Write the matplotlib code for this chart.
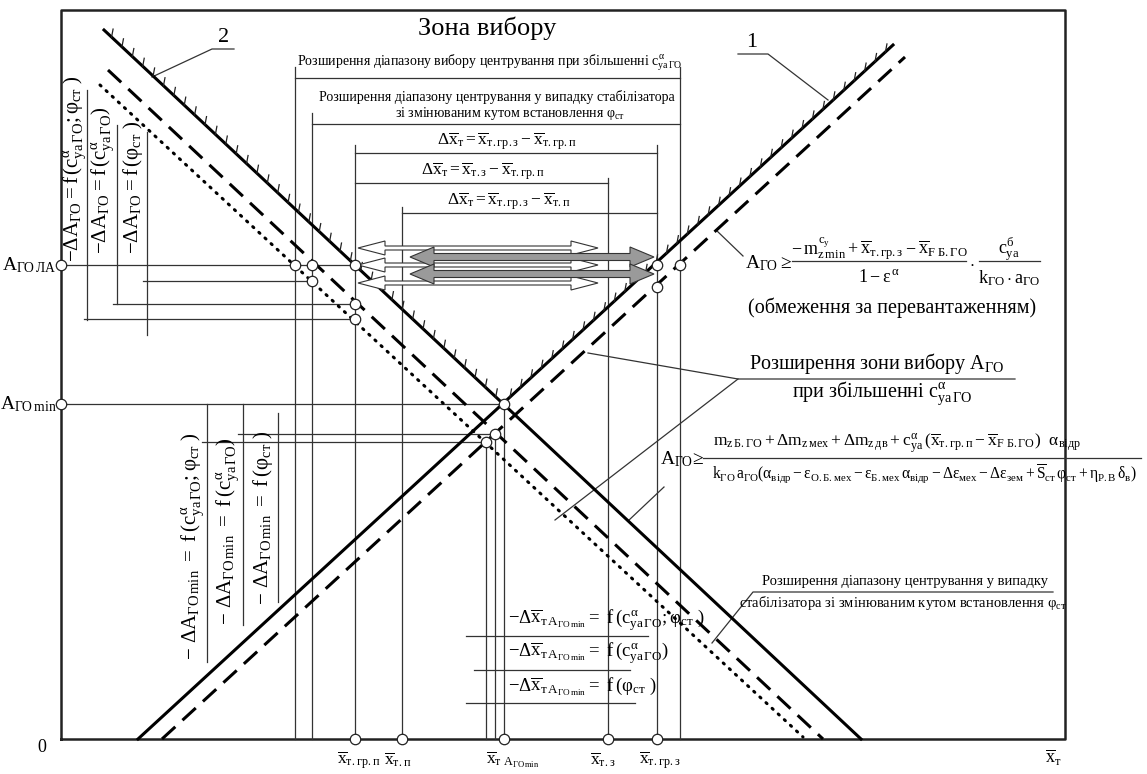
import numpy as np
import matplotlib
matplotlib.use("Agg")
import matplotlib.pyplot as plt
from matplotlib.patches import Polygon

plt.rcParams['font.family'] = ['Liberation Serif', 'DejaVu Serif']
plt.rcParams['mathtext.fontset'] = 'custom'
plt.rcParams['mathtext.rm'] = 'Liberation Serif'
plt.rcParams['mathtext.it'] = 'Liberation Serif'
plt.rcParams['mathtext.bf'] = 'Liberation Serif:bold'
plt.rcParams['lines.scale_dashes'] = False

# diagram frame (drawing units = pixels of the sheet)
x_left, x_right = 61, 1065
y_top, y_axis = 10, 739

# boundary lines  [x0, y0, x1, y1]
line1 = [138, 739, 893, 45]        # 1 - rising, solid
line1_dash = [162, 739, 905, 57]
line2 = [104, 30, 861, 739]        # 2 - falling, solid
line2_dash = [108, 70, 823, 739]
line2_dot = [100, 85, 803, 737]
cross = [504, 404]

# vertical guide lines (down to the axis)
vert_x = [295, 312, 355, 402, 486, 495, 504, 608, 657, 680]
vert_top = [67, 113, 145, 207, 442, 434, 404, 178, 145, 67]

# range brackets
br_y = [78, 124, 153, 183, 213]
br_x0 = [295, 312, 355, 355, 402]
br_x1 = [680, 680, 657, 608, 657]

# horizontal guide lines  (y, x0, x1)
h_y = [265, 281, 304, 319, 404, 434, 442]
h_x0 = [61, 143, 113, 84, 61, 238, 202]
h_x1 = [355, 312, 355, 355, 504, 495, 486]

# short vertical bars next to rotated labels (x, y0, y1)
bar_x = [87, 117, 147, 207, 243, 278]
bar_y0 = [90, 125, 132, 404, 404, 413]
bar_y1 = [320, 304, 335, 662, 625, 602]

# open circles
pt_x = [61, 61, 295, 312, 355, 312, 355, 355, 657, 680, 657, 504, 495, 486,
        355, 402, 504, 608, 657]
pt_y = [265, 404, 265, 265, 265, 281, 304, 319, 265, 265, 287, 404, 434, 442,
        739, 739, 739, 739, 739]

# axis labels
tick_x = [355, 402, 504, 608, 657]
tick_lbl = [r'$\overline{x}_{т.гр.п}$', r'$\overline{x}_{т.п}$',
            r'$\overline{x}_{т\ A_{ГО\,min}}$', r'$\overline{x}_{т.з}$',
            r'$\overline{x}_{т.гр.з}$']

br_lbl = [r'$\Delta\overline{x}_{т} = \overline{x}_{т.гр.з} - \overline{x}_{т.гр.п}$',
          r'$\Delta\overline{x}_{т} = \overline{x}_{т.з} - \overline{x}_{т.гр.п}$',
          r'$\Delta\overline{x}_{т} = \overline{x}_{т.гр.з} - \overline{x}_{т.п}$']
br_lbl_x = [507, 483, 509]
br_lbl_y = [141, 171, 201]

rot_lbl = [r'$-\Delta A_{ГО} = f\,(c^{\alpha}_{ya\,ГО};\varphi_{ст}\ )$',
           r'$-\Delta A_{ГО} = f\,(c^{\alpha}_{ya\,ГО})$',
           r'$-\Delta A_{ГО} = f\,(\varphi_{ст}\ )$',
           r'$-\ \Delta A_{ГО\,min}\ =\ f\,(c^{\alpha}_{ya\,ГО};\varphi_{ст}\ )$',
           r'$-\ \Delta A_{ГО\,min}\ =\ f\,(c^{\alpha}_{ya\,ГО})$',
           r'$-\ \Delta A_{ГО\,min}\ =\ f\,(\varphi_{ст}\ )$']
rot_x = [75, 103, 133, 193, 228, 263]
rot_y = [262, 254, 254, 660, 625, 605]

dx_lbl = [r'$-\Delta\overline{x}_{т\,A_{ГО\,min}}=\ f\,(c^{\alpha}_{ya\,ГО};\varphi_{ст}\ )$',
          r'$-\Delta\overline{x}_{т\,A_{ГО\,min}}=\ f\,(c^{\alpha}_{ya\,ГО})$',
          r'$-\Delta\overline{x}_{т\,A_{ГО\,min}}=\ f\,(\varphi_{ст}\ )$']
dx_y = [620, 653, 687]
dx_line_y = [636, 670, 703]
dx_line_x0 = [466, 474, 466]
dx_line_x1 = [648, 630, 635]

# arrows between the two limit points at A_ГО ЛА
white_arr_y = [248, 265, 283]
white_arr_x = [[358, 598], [358, 598], [358, 598]]
grey_arr_y = [257, 274]
grey_arr_x = [[410, 654], [410, 654]]

# leader lines
leaders = [
    [(152, 77), (212, 49), (234, 49)],          # "2"
    [(738, 54), (768, 54), (828, 100)],         # "1"
    [(743, 256), (716, 230)],                   # formula 1
    [(588, 353), (738, 379), (1015, 379)],
    [(738, 379), (555, 520)],
    [(664, 487), (628, 521)],                   # formula 2
    [(1053, 592), (753, 592), (712, 643)],
]


def block_arrow(ax, x0, x1, y, w, hw, hl, fc):
    pts = [(x0, y), (x0 + hl, y - hw / 2), (x0 + hl, y - w / 2), (x1 - hl, y - w / 2),
           (x1 - hl, y - hw / 2), (x1, y), (x1 - hl, y + hw / 2), (x1 - hl, y + w / 2),
           (x0 + hl, y + w / 2), (x0 + hl, y + hw / 2)]
    ax.add_patch(Polygon(pts, closed=True, fc=fc, ec='#333333', lw=0.8, zorder=4))


def hatch(ax, ln, t0, t1, n):
    x0, y0, x1, y1 = ln
    for t in np.linspace(t0, t1, n):
        x = x0 + (x1 - x0) * t
        y = y0 + (y1 - y0) * t
        ax.plot([x, x + 1.5], [y, y - 8], color='#222222', lw=0.9, zorder=3)


fig = plt.figure(figsize=(11.47, 7.74), dpi=100)
ax = fig.add_axes([0, 0, 1, 1])
ax.set_xlim(0, 1147)
ax.set_ylim(774, 0)
ax.axis('off')

thin = dict(color='#333333', lw=0.9, zorder=2)

# frame
ax.plot([x_left, x_left, x_right, x_right, x_left], [y_axis, y_top, y_top, y_axis, y_axis],
        color='#222222', lw=1.8, zorder=2)

# main lines
ax.plot(line1[0::2], line1[1::2], color='black', lw=2.2, zorder=3)
ax.plot(line2[0::2], line2[1::2], color='black', lw=2.2, zorder=3)
ax.plot(line1_dash[0::2], line1_dash[1::2], color='black', lw=2.2, dashes=(13, 7), zorder=3)
ax.plot(line2_dash[0::2], line2_dash[1::2], color='black', lw=2.2, dashes=(13, 7), zorder=3)
ax.plot(line2_dot[0::2], line2_dot[1::2], color='black', lw=2.2, dashes=(1, 5),
        dash_capstyle='round', zorder=3)

# hatching on the allowed side above the crossing
t_c1 = (line1[1] - cross[1]) / (line1[1] - line1[3])
hatch(ax, line1, t_c1 + 0.01, 0.99, 37)
t_c2 = (cross[1] - line2[1]) / (line2[3] - line2[1])
hatch(ax, line2, 0.01, t_c2 - 0.01, 38)

for x, yt in zip(vert_x, vert_top):
    ax.plot([x, x], [yt, y_axis], **thin)
for y, a, b in zip(br_y, br_x0, br_x1):
    ax.plot([a, b], [y, y], **thin)
for y, a, b in zip(h_y, h_x0, h_x1):
    ax.plot([a, b], [y, y], **thin)
for x, a, b in zip(bar_x, bar_y0, bar_y1):
    ax.plot([x, x], [a, b], **thin)
for y, a, b in zip(dx_line_y, dx_line_x0, dx_line_x1):
    ax.plot([a, b], [y, y], **thin)
for ld in leaders:
    xs, ys = zip(*ld)
    ax.plot(xs, ys, **thin)

for y, (a, b) in zip(white_arr_y, white_arr_x):
    block_arrow(ax, a, b, y, 4, 14, 27, 'white')
for y, (a, b) in zip(grey_arr_y, grey_arr_x):
    block_arrow(ax, a, b, y, 7, 20, 24, '#9a9a9a')

ax.plot(pt_x, pt_y, 'o', ms=7.5, mfc='white', mec='#222222', mew=0.9, zorder=6)

# texts
ax.text(487, 28, 'Зона вибору', fontsize=19, ha='center', va='center')
ax.text(490, 63, r'Розширення діапазону вибору центрування при збільшенні $c^{\alpha}_{ya\,ГО}$',
        fontsize=10, ha='center', va='center')
ax.text(497, 97, 'Розширення діапазону центрування у випадку стабілізатора',
        fontsize=10, ha='center', va='center')
ax.text(510, 113, r'зі змінюваним кутом встановлення $\varphi_{ст}$',
        fontsize=10, ha='center', va='center')
for s, x, y in zip(br_lbl, br_lbl_x, br_lbl_y):
    ax.text(x, y, s, fontsize=12.5, ha='center', va='center')

for s, x, y in zip(rot_lbl, rot_x, rot_y):
    ax.text(x, y, s, fontsize=15, rotation=90, rotation_mode='anchor', ha='left', va='center')

for s, y in zip(dx_lbl, dx_y):
    ax.text(508, y, s, fontsize=13.5, ha='left', va='center')

for x, s in zip(tick_x, tick_lbl):
    ax.text(x - 18, 760, s, fontsize=12.5, ha='left', va='center')
ax.text(42, 748, '0', fontsize=13, ha='center', va='center')
ax.text(1045, 758, r'$\overline{x}_{т}$', fontsize=13, ha='left', va='center')

ax.text(57, 265, r'$A_{ГО\,ЛА}$', fontsize=14, ha='right', va='center')
ax.text(57, 404, r'$A_{ГО\,min}$', fontsize=14, ha='right', va='center')

ax.text(224, 47, '2', fontsize=16, ha='center', va='bottom')
ax.text(752, 52, '1', fontsize=16, ha='center', va='bottom')

# overload restriction (formula 1)
ax.text(745, 263, r'$A_{ГО}\geq$', fontsize=14, ha='left', va='center')
ax.text(879, 249, r'$-\,m^{c_y}_{z\,min}+\overline{x}_{т.гр.з}-\overline{x}_{F\ Б.ГО}$',
        fontsize=13, ha='center', va='center')
ax.plot([792, 966], [261, 261], color='#333333', lw=0.9)
ax.text(879, 277, r'$1-\varepsilon^{\alpha}$', fontsize=13, ha='center', va='center')
ax.text(972, 262, r'$\cdot$', fontsize=13, ha='center', va='center')
ax.text(1009, 249, r'$c^{б}_{ya}$', fontsize=13, ha='center', va='center')
ax.plot([979, 1040], [261, 261], color='#333333', lw=0.9)
ax.text(1009, 278, r'$k_{ГО}\cdot a_{ГО}$', fontsize=13, ha='center', va='center')
ax.text(892, 308, '(обмеження за перевантаженням)', fontsize=14.5, ha='center', va='center')

ax.text(877, 364, r'Розширення зони вибору $A_{ГО}$', fontsize=14.5, ha='center', va='center')
ax.text(882, 393, r'при збільшенні $c^{\alpha}_{ya\,ГО}$', fontsize=14.5, ha='center', va='center')

# balancing restriction (formula 2)
ax.text(660, 459, r'$A_{ГО}\!\geq$', fontsize=14, ha='left', va='center')
ax.text(897, 443, r'$m_{z\,Б.ГО}+\Delta m_{z\,мех}+\Delta m_{z\,дв}+c^{\alpha}_{ya}\,'
        r'(\overline{x}_{т.гр.п}-\overline{x}_{F\ Б.ГО})\ \ \alpha_{відр}$',
        fontsize=12.5, ha='center', va='center')
ax.plot([703, 1141], [458, 458], color='#333333', lw=0.9)
ax.text(924, 474, r'$k_{ГО}\,a_{ГО}(\alpha_{відр}-\varepsilon_{О.Б.мех}-\varepsilon_{Б.мех}\,'
        r'\alpha_{відр}-\Delta\varepsilon_{мех}-\Delta\varepsilon_{зем}+\overline{S}_{ст}\,'
        r'\varphi_{ст}+\eta_{Р.В}\,\delta_{в})$',
        fontsize=11.2, ha='center', va='center')

ax.text(905, 582, 'Розширення діапазону центрування у випадку', fontsize=10.5,
        ha='center', va='center')
ax.text(903, 603, r'стабілізатора зі змінюваним кутом встановлення $\varphi_{ст}$', fontsize=10.5,
        ha='center', va='center')

fig.savefig('out.png', dpi=100, facecolor='white')
